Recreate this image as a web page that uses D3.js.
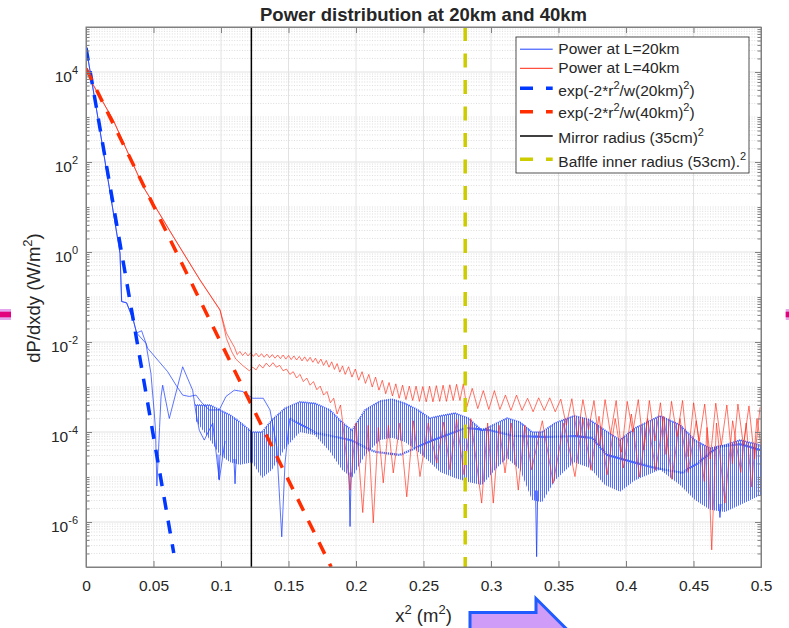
<!DOCTYPE html>
<html>
<head>
<meta charset="utf-8">
<script src="https://cdn.jsdelivr.net/npm/d3@7"></script>
<style>
  body { margin: 0; background: #fff; }
  text { font-family: "Liberation Sans", Arial, Helvetica, sans-serif; fill: #262626; }
</style>
</head>
<body>
<svg id="chart" width="789" height="628"></svg>
<script>
// ---- data (x in m^2, y given as log10 of dP/dxdy in W/m^2) ----
const titleText = 'Power distribution at 20km and 40km';
const xTicks = [0, 0.05, 0.1, 0.15, 0.2, 0.25, 0.3, 0.35, 0.4, 0.45, 0.5];
const xTickLabels = ['0', '0.05', '0.1', '0.15', '0.2', '0.25', '0.3', '0.35', '0.4', '0.45', '0.5'];
const yTickExp = [-6, -4, -2, 0, 2, 4];
const mirrorR2 = 0.1225;   // (35cm)^2
const baffleR2 = 0.2809;   // (53cm)^2

const fit20 = [[0, 4.54], [0.065, -6.69]];
const fit40 = [[0, 4.08], [0.1816, -7.0]];

// Power at L=20km
const blue20Core = [[0, 4.56], [0.0091, 2.93], [0.0252, -0.03], [0.0264, -1.1], [0.0301, -1.13], [0.035, -1.51], [0.0375, -1.8]];
const blue20A = [[0.0375, -1.8], [0.0412, -1.75], [0.0457, -2.14], [0.0531, -2.4], [0.0605, -2.66], [0.0667, -2.96], [0.0716, -3.18],
  [0.0765, -3.21], [0.0815, -3.18], [0.0852, -3.33], [0.0913, -3.51], [0.0987, -3.51], [0.1037, -3.21], [0.1099, -3.07],
  [0.1161, -3.1], [0.1235, -3.25], [0.1313, -3.25], [0.1363, -3.51], [0.1413, -4.33], [0.145, -6.33], [0.1474, -4.7],
  [0.1499, -3.96], [0.1511, -3.7]];
const blue20Slow = [[0.1511, -3.7], [0.1704, -4.02], [0.1956, -4.18], [0.2141, -4.44], [0.2326, -4.51], [0.257, -4.18],
  [0.2807, -3.91], [0.2993, -3.96], [0.3178, -4.09], [0.3422, -4.11], [0.3622, -4.09], [0.3748, -4.13], [0.3859, -4.51],
  [0.3993, -4.62], [0.4193, -4.78], [0.4415, -4.91], [0.4533, -4.69], [0.4681, -4.33], [0.4844, -4.27], [0.4993, -4.4]];
const blue20B = [[0.0375, -1.8], [0.0444, -2.03], [0.0481, -2.7], [0.0506, -3.58], [0.0515, -3.96], [0.0525, -5.2], [0.0545, -3.9],
  [0.0556, -3.21], [0.0568, -2.96], [0.0617, -3.7], [0.0716, -2.55], [0.079, -3.07], [0.0815, -3.58], [0.0839, -3.96],
  [0.0876, -4.18], [0.0939, -3.8], [0.0987, -5.07], [0.103, -4.2]];
// fast ripple band: [x, top, bottom]
const blue20Band = [[0.0807, -3.4, -3.73], [0.0919, -3.4, -4.18], [0.0993, -3.51, -4.51], [0.1067, -3.62, -4.67], [0.1141, -3.78, -4.73],
  [0.123, -4.0, -4.67], [0.1304, -4.0, -5.02], [0.1378, -3.73, -4.84], [0.1474, -3.47, -4.36], [0.1585, -3.33, -4.0],
  [0.1696, -3.36, -4.07], [0.1807, -3.51, -4.44], [0.1896, -3.78, -4.84], [0.197, -3.96, -5.02], [0.2067, -3.51, -4.51],
  [0.2178, -3.31, -4.18], [0.2267, -3.27, -4.13], [0.2363, -3.36, -4.22], [0.2459, -3.51, -4.44], [0.2548, -3.69, -4.67],
  [0.2622, -3.64, -4.89], [0.2733, -3.58, -5.02], [0.283, -3.69, -5.11], [0.2933, -3.96, -5.18], [0.303, -3.82, -4.84],
  [0.3119, -3.69, -4.58], [0.3215, -3.78, -4.84], [0.3304, -4.0, -5.51], [0.3378, -4.0, -5.56], [0.3474, -3.8, -5.07],
  [0.3615, -3.64, -4.67], [0.3733, -3.73, -4.8], [0.3844, -3.96, -5.18], [0.3956, -4.18, -5.33], [0.4067, -3.91, -5.07],
  [0.4252, -3.64, -4.84], [0.44, -3.84, -5.18], [0.4511, -4.18, -5.51], [0.4622, -4.36, -5.73], [0.4733, -4.29, -5.78],
  [0.4844, -4.18, -5.62], [0.5, -4.29, -5.4]];
// isolated deep dips: [x, from, to]
const blue20Spikes = [[0.0985, -4.5, -5.05], [0.1104, -4.6, -5.15], [0.1956, -4.9, -6.1], [0.3338, -5.3, -6.77], [0.4696, -5.6, -5.9]];

// Power at L=40km
const red40Core = [[0, 4.08], [0.0054, 3.71], [0.0202, 2.93], [0.0424, 1.45], [0.0647, 0.34], [0.0844, -0.62], [0.0993, -1.29]];
const red40UpperHead = [[0.0993, -1.29], [0.104, -1.8]];
const red40UpperA = [-2.12, -2.28, -2.21, -2.30, -2.23, -2.31, -2.24, -2.32, -2.25, -2.33, -2.26, -2.34, -2.27, -2.35, -2.28,
  -2.36, -2.29, -2.37, -2.29, -2.38, -2.30, -2.39, -2.31, -2.40, -2.32, -2.42, -2.33, -2.43, -2.34, -2.45, -2.36, -2.48,
  -2.38, -2.52, -2.41, -2.56, -2.44, -2.61, -2.48, -2.67, -2.53];
const red40UpperB = [-2.72, -2.55, -2.78, -2.60, -2.85, -2.66, -2.92, -2.72, -3.00, -2.78, -3.07, -2.85, -3.15, -2.90, -3.20,
  -2.93, -3.25, -2.96, -3.28, -2.98, -3.30, -2.98, -3.32, -2.99, -3.33, -2.98, -3.33, -2.97, -3.32, -2.96, -3.32, -2.95,
  -3.30, -2.94, -3.30, -2.93];
const red40UpperC = [-3.45, -3.03, -3.48, -3.08, -3.50, -3.08, -3.50, -3.18, -3.52, -3.18, -3.52, -3.25, -3.55, -3.24, -3.52,
  -3.24, -3.55, -3.27, -3.85, -3.26, -4.10, -3.28, -3.95, -3.30, -4.30, -3.28, -4.05, -3.30, -4.45, -3.32, -4.00, -3.28,
  -4.40, -3.30, -4.20, -3.35, -4.50, -3.32, -4.10, -3.30, -4.55, -3.35, -4.20, -3.38, -4.60, -3.36, -4.30, -3.40, -4.70,
  -3.38, -4.30, -3.42, -4.60, -3.45];
const red40LowerHead = [[0.0993, -1.29], [0.104, -1.92], [0.108, -2.22]];
const red40LowerA = [-2.38, -2.45, -2.52, -2.58, -2.64, -2.56, -2.62, -2.50, -2.58, -2.47, -2.55, -2.46, -2.56, -2.52, -2.64,
  -2.60, -2.72, -2.66, -2.80, -2.72, -2.88, -2.80, -2.96, -2.88, -3.06, -2.98, -3.18, -3.10, -3.35, -3.25, -3.60, -3.40];
const red40LowerB = [[0.19, -3.75], [0.1956, -5.29], [0.2, -3.8], [0.205, -5.79], [0.209, -3.85], [0.2128, -6.02], [0.2165, -3.9],
  [0.2202, -5.13], [0.224, -3.85], [0.2276, -4.91], [0.2325, -3.8], [0.2376, -5.44], [0.2425, -3.75], [0.2474, -4.99],
  [0.2535, -3.8], [0.2598, -4.69], [0.265, -3.78], [0.2696, -4.84], [0.2745, -3.72], [0.28, -4.95], [0.285, -3.7],
  [0.2931, -5.58], [0.2975, -3.8], [0.3017, -5.58], [0.306, -3.85], [0.3104, -4.91], [0.315, -3.8], [0.3202, -5.29],
  [0.325, -3.85], [0.3301, -4.84], [0.338, -3.75], [0.3461, -5.14], [0.354, -3.8], [0.3622, -4.99], [0.368, -3.7],
  [0.374, -4.85], [0.38, -3.65], [0.386, -4.95], [0.392, -3.7], [0.398, -4.8], [0.404, -3.6], [0.41, -5.0], [0.416, -3.7],
  [0.422, -4.85], [0.428, -3.65], [0.434, -5.05], [0.44, -3.7], [0.446, -4.9], [0.452, -3.75], [0.458, -5.1], [0.46, -3.9],
  [0.4635, -6.62], [0.467, -3.8], [0.4733, -5.58], [0.479, -3.75], [0.485, -4.9], [0.489, -3.8], [0.4931, -5.22],
  [0.497, -3.7], [0.5, -4.3]];

// regularly sampled readings -> [x, y]
const sampled = (x0, dx, ys) => ys.map((v, i) => [x0 + i * dx, v]);

const blue20Main = blue20Core.concat(blue20A.slice(1));
const blue20Second = blue20Core.concat(blue20B.slice(1));
const red40Upper = red40Core.concat(red40UpperHead.slice(1), sampled(0.110, 0.002, red40UpperA),
  sampled(0.192, 0.0025, red40UpperB), sampled(0.282, 0.0041, red40UpperC));
const red40Lower = red40Core.concat(red40LowerHead.slice(1), sampled(0.111, 0.0025, red40LowerA), red40LowerB);

// ---- chart ----
const svg = d3.select('#chart');
const pL = 86, pR = 761, pT = 27, pB = 567;
const x = d3.scaleLinear().domain([0, 0.5]).range([pL, pR]);
const y = d3.scaleLog().domain([1e-7, 1e5]).range([pB, pT]);
const ly = v => y(Math.pow(10, v));
const line = d3.line().x(d => x(d[0])).y(d => ly(d[1]));

const defs = svg.append('defs');
defs.append('clipPath').attr('id', 'plotClip')
  .append('rect').attr('x', pL).attr('y', pT).attr('width', pR - pL).attr('height', pB - pT);
const pat = defs.append('pattern').attr('id', 'ripple').attr('patternUnits', 'userSpaceOnUse')
  .attr('width', 2).attr('height', 10);
pat.append('rect').attr('width', 1).attr('height', 10).attr('fill', '#2a4cff');

svg.append('rect').attr('x', pL).attr('y', pT).attr('width', pR - pL).attr('height', pB - pT).attr('fill', '#fff');

// grid
const grid = svg.append('g');
const minorVals = [];
for (let n = -7; n <= 4; n++) {
  for (let k = 1; k <= 9; k++) {
    if (k === 1 && yTickExp.includes(n)) continue;
    if (k === 1 && n === -7) continue;
    minorVals.push(k * Math.pow(10, n));
  }
}
grid.selectAll('.minor').data(minorVals).enter().append('line')
  .attr('x1', pL).attr('x2', pR).attr('y1', d => y(d)).attr('y2', d => y(d))
  .attr('stroke', '#cfcfcf').attr('stroke-width', 0.7).attr('stroke-dasharray', '1,1.6');
grid.selectAll('.majory').data(yTickExp).enter().append('line')
  .attr('x1', pL).attr('x2', pR).attr('y1', d => ly(d)).attr('y2', d => ly(d))
  .attr('stroke', '#e2e2e2').attr('stroke-width', 1);
grid.selectAll('.majorx').data(xTicks.slice(1, -1)).enter().append('line')
  .attr('x1', d => x(d)).attr('x2', d => x(d)).attr('y1', pT).attr('y2', pB)
  .attr('stroke', '#e2e2e2').attr('stroke-width', 1);

// data
const plot = svg.append('g').attr('clip-path', 'url(#plotClip)');
const blueCol = '#1d3fff', redCol = '#ff2410';

plot.append('path').datum(blue20Band)
  .attr('d', d3.area().x(d => x(d[0])).y0(d => ly(d[2])).y1(d => ly(d[1])))
  .attr('fill', 'url(#ripple)').attr('opacity', 0.8);
plot.append('path').datum(blue20Band)
  .attr('d', d3.line().x(d => x(d[0])).y(d => ly(d[1])))
  .attr('fill', 'none').attr('stroke', blueCol).attr('stroke-width', 1.6).attr('stroke-dasharray', '1,1').attr('opacity', 0.85);
plot.selectAll('.spike').data(blue20Spikes).enter().append('path')
  .attr('d', d => line([[d[0] - 0.0008, d[1]], [d[0], d[2]], [d[0] + 0.0008, d[1]]]))
  .attr('fill', 'none').attr('stroke', blueCol).attr('stroke-width', 0.8);
[blue20Main, blue20Second].forEach(s => {
  plot.append('path').datum(s).attr('d', line)
    .attr('fill', 'none').attr('stroke', blueCol).attr('stroke-width', 0.8).attr('opacity', 0.9);
});
plot.append('path').datum(blue20Slow).attr('d', line)
  .attr('fill', 'none').attr('stroke', blueCol).attr('stroke-width', 2.2).attr('stroke-dasharray', '1.2,0.9').attr('opacity', 0.85);

[red40Upper, red40Lower].forEach(s => {
  plot.append('path').datum(s).attr('d', line)
    .attr('fill', 'none').attr('stroke', redCol).attr('stroke-width', 0.75).attr('opacity', 0.85);
});

plot.append('path').datum(fit20).attr('d', line)
  .attr('fill', 'none').attr('stroke', '#0038ff').attr('stroke-width', 3.5).attr('stroke-dasharray', '13,11');
plot.append('path').datum(fit40).attr('d', line)
  .attr('fill', 'none').attr('stroke', '#ff2d00').attr('stroke-width', 3.5).attr('stroke-dasharray', '13,11');
plot.append('path').datum([[mirrorR2, 5], [mirrorR2, -7]]).attr('d', line)
  .attr('fill', 'none').attr('stroke', '#000').attr('stroke-width', 1.5);
plot.append('path').datum([[baffleR2, 5], [baffleR2, -7]]).attr('d', line)
  .attr('fill', 'none').attr('stroke', '#cccc00').attr('stroke-width', 3.5).attr('stroke-dasharray', '14,12.5');

// axes
const axisCol = '#808080';
const styleAxis = g => { g.selectAll('path, line').attr('stroke', axisCol); g.selectAll('text').remove(); };
svg.append('g').attr('transform', `translate(0,${pB})`)
  .call(d3.axisBottom(x).tickValues(xTicks).tickSizeInner(-6).tickSizeOuter(0).tickPadding(12.7)
    .tickFormat((d, i) => xTickLabels[i]))
  .call(g => {
    g.selectAll('path, line').attr('stroke', axisCol);
    g.selectAll('text').attr('font-size', 15.5).attr('fill', '#262626')
      .attr('font-family', '"Liberation Sans", Arial, Helvetica, sans-serif');
  });
svg.append('g').attr('transform', `translate(0,${pT})`)
  .call(d3.axisTop(x).tickValues(xTicks).tickSizeInner(-6).tickSizeOuter(0)).call(styleAxis);
svg.append('g').attr('transform', `translate(${pL},0)`)
  .call(d3.axisLeft(y).tickValues(yTickExp.map(e => Math.pow(10, e))).tickSizeInner(-6).tickSizeOuter(0)).call(styleAxis);
svg.append('g').attr('transform', `translate(${pL},0)`)
  .call(d3.axisLeft(y).tickValues(minorVals).tickSizeInner(-3.5).tickSizeOuter(0)).call(styleAxis);
svg.append('g').attr('transform', `translate(${pR},0)`)
  .call(d3.axisRight(y).tickValues(yTickExp.map(e => Math.pow(10, e))).tickSizeInner(-6).tickSizeOuter(0)).call(styleAxis);
svg.append('g').attr('transform', `translate(${pR},0)`)
  .call(d3.axisRight(y).tickValues(minorVals).tickSizeInner(-3.5).tickSizeOuter(0)).call(styleAxis);
svg.append('rect').attr('x', pL).attr('y', pT).attr('width', pR - pL).attr('height', pB - pT)
  .attr('fill', 'none').attr('stroke', axisCol).attr('stroke-width', 1);

// y tick labels 10^n
const yl = svg.append('g').selectAll('text').data(yTickExp).enter().append('text')
  .attr('x', 78).attr('y', d => ly(d) + 9.7).attr('text-anchor', 'end').attr('font-size', 15.5);
yl.append('tspan').text('10');
yl.append('tspan').attr('dy', -8).attr('font-size', 11).text(d => String(d));

// rich text helper: pieces [text, isSup]
function rich(sel, pieces, supSize, rise) {
  let up = false;
  pieces.forEach(p => {
    const t = sel.append('tspan').text(p[0]);
    if (p[1] && !up) { t.attr('dy', -rise).attr('font-size', supSize); up = true; }
    else if (p[1]) { t.attr('font-size', supSize); }
    else if (up) { t.attr('dy', rise); up = false; }
  });
}

svg.append('text').attr('x', (pL + pR) / 2).attr('y', 20.7).attr('text-anchor', 'middle')
  .attr('font-size', 18.5).attr('font-weight', 'bold').attr('fill', '#000').text(titleText);

rich(svg.append('text').attr('x', (pL + pR) / 2).attr('y', 622).attr('text-anchor', 'middle').attr('font-size', 18.5),
  [['x'], ['2', 1], [' (m'], ['2', 1], [')']], 13, 8);
rich(svg.append('text').attr('transform', 'translate(39.5,298) rotate(-90)').attr('text-anchor', 'middle').attr('font-size', 18.5),
  [['dP/dxdy (W/m'], ['2', 1], [')']], 13, 8);

// legend
const legendItems = [
  { text: [['Power at L=20km']], stroke: blueCol, width: 1, dash: null, ly: 49.2, ty: 54 },
  { text: [['Power at L=40km']], stroke: redCol, width: 1, dash: null, ly: 68.3, ty: 73.3 },
  { text: [['exp(-2*r'], ['2', 1], ['/w(20km)'], ['2', 1], [')']], stroke: '#0038ff', width: 3.5, dash: '13,13', ly: 88.3, ty: 96 },
  { text: [['exp(-2*r'], ['2', 1], ['/w(40km)'], ['2', 1], [')']], stroke: '#ff2d00', width: 3.5, dash: '13,13', ly: 111.7, ty: 118.3 },
  { text: [['Mirror radius (35cm)'], ['2', 1]], stroke: '#000', width: 1.5, dash: null, ly: 136, ty: 143.3 },
  { text: [['Baflfe inner radius (53cm).'], ['2', 1]], stroke: '#cccc00', width: 3.5, dash: '13,13', ly: 159.3, ty: 167.3 }
];
const lg = svg.append('g');
lg.append('rect').attr('x', 516).attr('y', 37).attr('width', 233).attr('height', 136)
  .attr('fill', '#fff').attr('stroke', '#262626').attr('stroke-width', 0.8);
legendItems.forEach(it => {
  lg.append('line').attr('x1', 520).attr('x2', 552.7).attr('y1', it.ly).attr('y2', it.ly)
    .attr('stroke', it.stroke).attr('stroke-width', it.width).attr('stroke-dasharray', it.dash);
  rich(lg.append('text').attr('x', 558.3).attr('y', it.ty).attr('font-size', 15.5).attr('fill', '#000'),
    it.text, 11, 7);
});

// screenshot overlay marks outside the axes
const deco = svg.append('g');
deco.append('rect').attr('x', 0).attr('y', 309).attr('width', 11).attr('height', 11).attr('fill', '#e3a6ee');
deco.append('rect').attr('x', 0).attr('y', 311.7).attr('width', 11).attr('height', 5.6).attr('fill', '#e2007f');
deco.append('rect').attr('x', 785.7).attr('y', 309).attr('width', 4).attr('height', 11).attr('fill', '#e3a6ee');
deco.append('rect').attr('x', 785.7).attr('y', 311.7).attr('width', 4).attr('height', 5.6).attr('fill', '#e2007f');
deco.append('path').attr('d', 'M470,612.5 L536,612.5 L536,598.5 L573,635.5 L536,672.5 L536,658.5 L470,658.5 Z')
  .attr('fill', '#cf9cf8').attr('stroke', '#1f5bff').attr('stroke-width', 3).attr('stroke-linejoin', 'miter');
</script>
</body>
</html>
